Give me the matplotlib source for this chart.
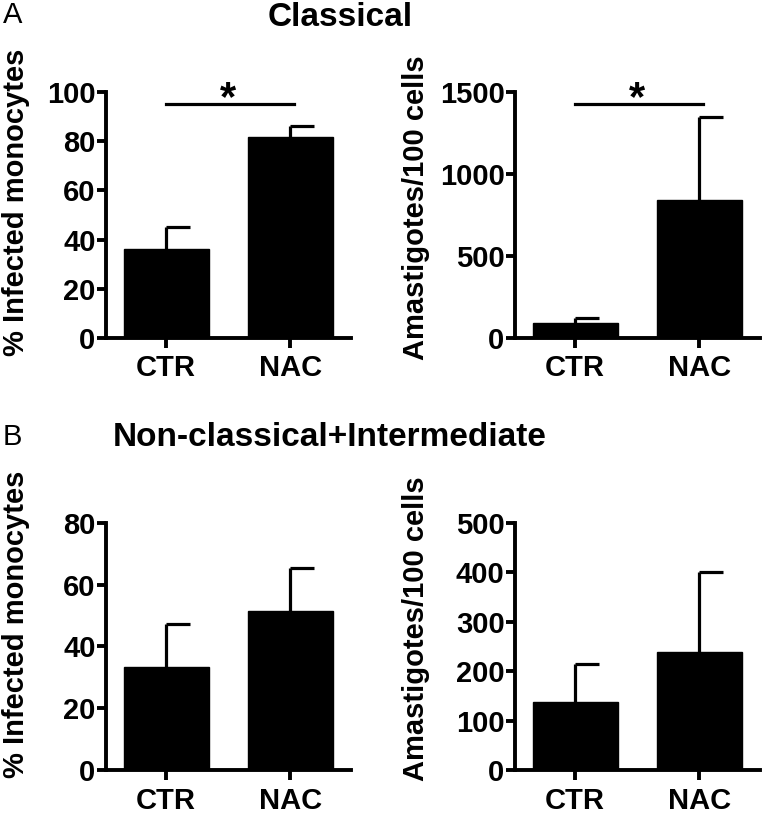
import matplotlib
matplotlib.use('Agg')
import matplotlib.pyplot as plt

plt.rcParams['font.family'] = ['Liberation Sans', 'DejaVu Sans']
plt.rcParams['font.weight'] = 'bold'

groups = ['CTR', 'NAC']

# Classical monocytes
classical_infected = [36.1, 81.6]
classical_infected_sem = [8.9, 4.5]
classical_amast = [88, 843]
classical_amast_sem = [34, 504]

# Non-classical + intermediate monocytes
nonclassical_infected = [33.2, 51.5]
nonclassical_infected_sem = [14.1, 13.8]
nonclassical_amast = [137, 238]
nonclassical_amast_sem = [77, 162]

LW = 2.8
W, H = 764, 815


def draw_panel(ax, means, sems, ylabel, ymax, ystep, label_x, label_y, sig_y=None):
    x = list(range(len(groups)))
    ax.bar(x, means, width=0.685, color='black', edgecolor='black', zorder=2)
    tops = [m + s for m, s in zip(means, sems)]
    # upper error bars only, cap drawn to the right of the whisker
    ax.vlines(x, means, tops, color='black', lw=2.3, zorder=1)
    ax.hlines(tops, x, [xi + 0.19 for xi in x], color='black', lw=2.3, zorder=1)

    ax.set_xlim(-0.484, 1.49)
    ax.set_ylim(0, ymax)
    ax.set_yticks(range(0, ymax + 1, ystep))
    ax.set_xticks(x)
    ax.set_xticklabels(groups)
    for s in ['top', 'right']:
        ax.spines[s].set_visible(False)
    for s in ['left', 'bottom']:
        ax.spines[s].set_linewidth(LW)
    ax.tick_params(axis='y', length=6.5, width=LW, labelsize=21, pad=1)
    ax.tick_params(axis='x', length=7, width=LW, labelsize=21, pad=5)
    ax.set_ylabel(ylabel, fontsize=21, fontweight='bold')
    ax.yaxis.set_label_coords(label_x, label_y)

    if sig_y is not None:
        ax.plot([0, 1.03], [sig_y, sig_y], color='black', lw=2.3, clip_on=False)
        ax.annotate('*', xy=(0.5, sig_y), xytext=(0, -11), textcoords='offset points',
                    ha='center', va='bottom', fontsize=30, fontweight='bold',
                    annotation_clip=False)


fig = plt.figure(figsize=(W / 100, H / 100), dpi=100)

ax1 = fig.add_axes([106 / W, 1 - 337.7 / H, 245 / W, 245.4 / H])
ax2 = fig.add_axes([515 / W, 1 - 337.7 / H, 245 / W, 245.4 / H])
ax3 = fig.add_axes([106 / W, 1 - 770 / H, 245 / W, 247.3 / H])
ax4 = fig.add_axes([515 / W, 1 - 770 / H, 245 / W, 247.3 / H])

draw_panel(ax1, classical_infected, classical_infected_sem, '% Infected monocytes',
           100, 20, -0.31, 0.55, sig_y=95.3)
draw_panel(ax2, classical_amast, classical_amast_sem, 'Amastigotes/100 cells',
           1500, 500, -0.345, 0.53, sig_y=1431)
draw_panel(ax3, nonclassical_infected, nonclassical_infected_sem, '% Infected monocytes',
           80, 20, -0.31, 0.59)
draw_panel(ax4, nonclassical_amast, nonclassical_amast_sem, 'Amastigotes/100 cells',
           500, 100, -0.345, 0.57)

fig.text(340 / W, 1 - 17 / H, 'Classical', ha='center', va='center',
         fontsize=24, fontweight='bold')
fig.text(330 / W, 1 - 437 / H, 'Non-classical+Intermediate', ha='center', va='center',
         fontsize=24, fontweight='bold')
fig.text(3 / W, 1 - 15 / H, 'A', ha='left', va='center', fontsize=21, fontweight='normal')
fig.text(3 / W, 1 - 437 / H, 'B', ha='left', va='center', fontsize=21, fontweight='normal')

fig.savefig('out.png', dpi=100)
